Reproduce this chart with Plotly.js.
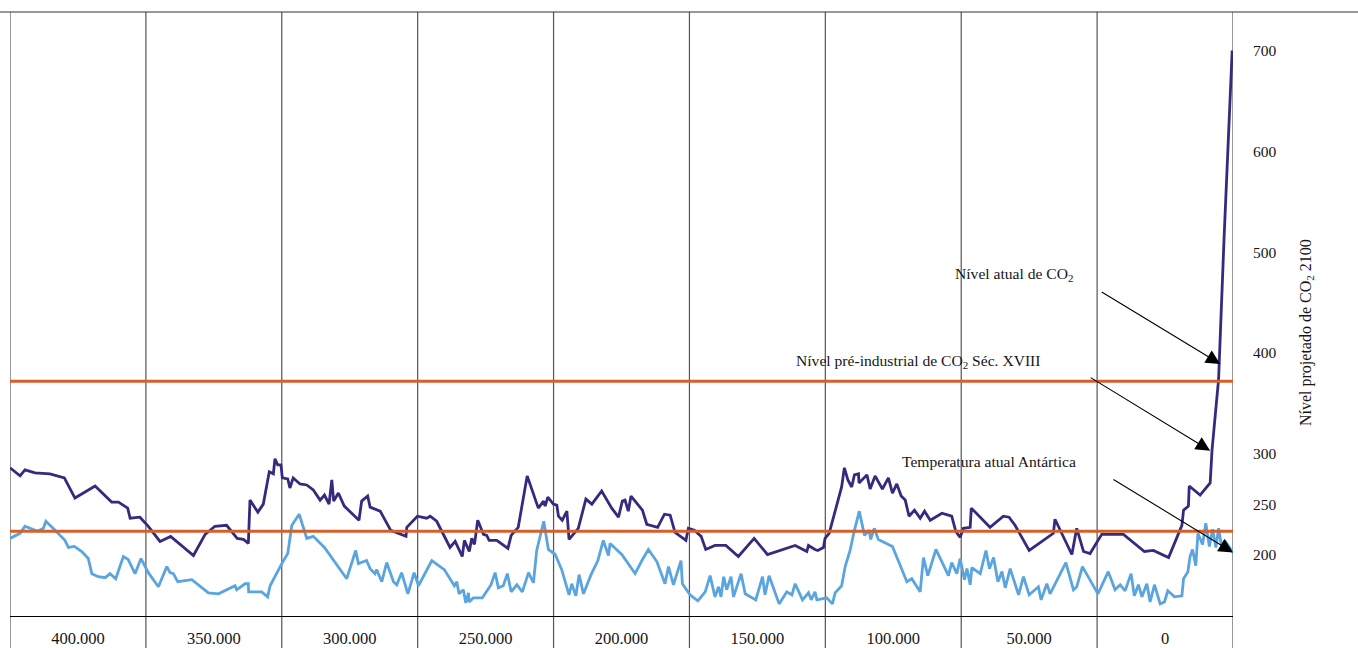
<!DOCTYPE html>
<html lang="pt">
<head>
<meta charset="utf-8">
<script src="https://cdn.plot.ly/plotly-3.0.1.min.js"></script>
<style>
  html, body { margin: 0; padding: 0; background: #fff; }
  #chart { width: 1358px; height: 648px; }
</style>
</head>
<body>
<div id="chart"></div>
<script>
// Axis cells: centre of each cell, in thousands of years before present
const cellCentres = [400, 350, 300, 250, 200, 150, 100, 50, 0];
const cellLabels = ['400.000', '350.000', '300.000', '250.000', '200.000', '150.000', '100.000', '50.000', '0'];

// Right-hand scale
const levelTicks = [200, 250, 300, 400, 500, 600, 700];

// CO2 record (ppm) with projection to 2100 at the far right
const co2Years = [
  425.0, 421.3, 419.5, 415.8, 410.3, 405.0, 401.1, 393.7, 387.6, 385.1,
  381.7, 380.8, 377.2, 374.1, 369.8, 365.9, 357.5, 353.2, 349.6, 345.3,
  341.4, 339.1, 337.3, 336.7, 333.8, 331.8, 329.6, 328.1, 327.5, 326.5,
  325.3, 324.8, 322.8, 322.0, 320.8, 318.3, 315.8, 313.4, 310.9, 309.3,
  307.6, 306.6, 305.9, 304.2, 302.0, 296.6, 295.6, 293.4, 292.5, 288.8,
  284.9, 279.3, 279.0, 275.1, 271.7, 270.4, 268.0, 263.1, 261.2, 258.6,
  257.8, 256.0, 255.1, 254.1, 252.9, 250.8, 249.6, 248.7, 245.9, 241.8,
  240.6, 238.0, 234.7, 230.6, 228.7, 228.1, 227.1, 225.1, 223.8, 223.2,
  221.8, 220.1, 219.3, 215.9, 213.1, 210.9, 207.3, 203.6, 201.1, 199.7,
  198.7, 197.5, 196.5, 192.3, 190.7, 186.7, 184.2, 182.1, 180.3, 176.3,
  175.4, 173.2, 170.7, 169.0, 165.6, 161.6, 157.0, 151.2, 146.3, 136.1,
  131.8, 131.2, 128.8, 127.8, 125.7, 125.1, 123.6, 121.4, 119.0, 118.0,
  116.7, 115.3, 114.3, 112.8, 112.6, 109.7, 108.5, 106.7, 104.0, 101.8,
  100.3, 98.7, 97.1, 95.6, 94.2, 92.2, 90.1, 88.5, 86.4, 82.1,
  78.5, 77.0, 75.4, 74.2, 71.7, 71.3, 64.4, 59.5, 57.4, 55.2,
  50.0, 41.1, 40.5, 34.3, 32.5, 30.0, 27.6, 23.3, 15.3, 7.6,
  4.3, -1.3, -6.2, -6.8, -8.6, -8.9, -12.9, -16.6, -17.3, -19.7,
  -21.7, -24.7
];
const co2Values = [
  286, 278, 284, 281, 280, 276, 256, 268, 252, 252,
  246, 236, 237, 228, 213, 218, 199, 220, 228, 229,
  216, 215, 211, 254, 242, 250, 282, 280, 295, 289,
  289, 276, 275, 266, 276, 270, 269, 264, 254, 259,
  250, 274, 253, 261, 248, 234, 253, 258, 247, 243,
  224, 218, 227, 238, 236, 238, 233, 207, 213, 198,
  214, 203, 216, 210, 234, 220, 219, 214, 214, 206,
  219, 227, 278, 246, 253, 248, 257, 250, 249, 238,
  234, 243, 215, 226, 255, 250, 263, 246, 237, 253,
  254, 243, 258, 244, 230, 227, 240, 239, 222, 214,
  226, 224, 218, 205, 209, 209, 198, 216, 200, 209,
  203, 209, 205, 204, 207, 216, 221, 243, 267, 286,
  274, 267, 279, 280, 271, 279, 265, 278, 265, 276,
  261, 270, 258, 254, 238, 244, 236, 243, 234, 241,
  238, 223, 217, 226, 227, 246, 227, 238, 237, 229,
  204, 221, 235, 200, 226, 203, 201, 220, 220, 203,
  204, 197, 229, 244, 248, 268, 259, 271, 304, 374,
  513, 700
];

// Antarctic temperature record, drawn on the same scale
const tempYears = [
  425.0, 421.3, 419.5, 414.8, 412.7, 411.8, 408.4, 404.8, 403.5, 401.3,
  398.6, 396.2, 394.9, 392.5, 390.0, 388.2, 386.1, 383.3, 381.5, 379.0,
  376.8, 374.1, 370.4, 367.3, 366.1, 364.9, 363.3, 358.1, 352.0, 348.3,
  342.2, 341.6, 338.5, 337.3, 337.2, 332.4, 330.2, 329.3, 325.0, 322.8,
  321.3, 318.6, 315.8, 313.4, 309.3, 301.1, 297.8, 296.8, 293.8, 292.5,
  290.7, 290.1, 288.2, 286.4, 283.9, 282.7, 280.9, 278.6, 276.3, 274.7,
  269.8, 265.2, 261.5, 260.6, 259.8, 258.2, 257.3, 256.3, 256.1, 254.5,
  251.2, 248.0, 246.5, 245.3, 243.5, 242.0, 240.6, 238.5, 236.5, 234.2,
  232.4, 231.2, 228.6, 226.9, 224.4, 222.0, 219.3, 218.3, 216.8, 215.6,
  214.0, 211.2, 208.7, 206.7, 204.8, 204.2, 199.9, 195.0, 192.3, 190.1,
  187.0, 184.0, 182.7, 180.9, 178.1, 177.6, 174.8, 171.9, 169.2, 167.4,
  165.6, 164.3, 163.4, 162.4, 161.3, 159.7, 158.8, 156.0, 154.5, 150.6,
  148.1, 147.2, 145.7, 142.0, 139.2, 137.3, 136.1, 133.4, 131.2, 130.2,
  128.8, 128.1, 124.5, 122.4, 121.4, 119.0, 117.7, 115.9, 114.3, 112.5,
  110.6, 108.9, 108.3, 107.0, 105.5, 100.3, 95.0, 93.2, 90.1, 88.9,
  87.3, 84.3, 79.7, 78.5, 76.6, 75.4, 73.8, 72.9, 71.7, 71.1,
  68.0, 65.9, 64.6, 63.1, 61.5, 60.0, 58.8, 57.0, 53.9, 52.1,
  50.0, 46.6, 45.6, 43.5, 42.3, 36.5, 33.7, 32.5, 30.4, 24.7,
  20.9, 18.4, 16.5, 14.7, 12.5, 11.3, 9.8, 8.5, 6.7, 5.5,
  3.9, 1.8, 0.2, -1.0, -3.5, -6.2, -6.8, -8.4, -9.2, -10.1,
  -11.3, -12.1, -13.8, -15.0, -16.3, -17.5, -18.7, -19.7, -20.9, -21.9,
  -25.0
];
const tempValues = [
  216, 221, 228, 223, 226, 233, 224, 214, 207, 208,
  203, 196, 181, 178, 177, 181, 176, 198, 195, 181,
  196, 182, 168, 188, 182, 181, 173, 175, 162, 161,
  169, 165, 171, 171, 163, 163, 158, 169, 191, 201,
  229, 240, 216, 218, 207, 176, 204, 191, 194, 186,
  181, 185, 173, 192, 173, 170, 182, 161, 182, 169,
  194, 185, 169, 173, 161, 165, 152, 162, 153, 157,
  157, 170, 182, 167, 169, 181, 163, 170, 163, 182,
  172, 204, 233, 205, 200, 185, 160, 171, 159, 180,
  161, 180, 194, 214, 199, 211, 200, 181, 195, 205,
  193, 171, 188, 170, 194, 171, 160, 154, 163, 179,
  158, 168, 158, 178, 165, 178, 158, 181, 161, 155,
  178, 160, 179, 151, 163, 160, 171, 155, 162, 155,
  163, 155, 157, 151, 162, 169, 188, 204, 224, 243,
  219, 224, 215, 226, 215, 208, 173, 176, 163, 197,
  179, 205, 179, 192, 181, 196, 175, 186, 170, 187,
  181, 204, 186, 197, 173, 183, 167, 186, 160, 178,
  160, 168, 155, 171, 161, 192, 165, 168, 188, 161,
  183, 165, 170, 164, 181, 159, 170, 158, 171, 153,
  170, 151, 153, 164, 158, 159, 176, 183, 198, 205,
  189, 221, 210, 231, 208, 225, 207, 226, 206, 214,
  202
];

// Horizontal reference levels
const referenceLevels = [372, 223];

const SERIF = 'Liberation Serif, DejaVu Serif, serif';
const TEXT = '#161616';

const traces = [
  {
    x: tempYears, y: tempValues, type: 'scatter', mode: 'lines',
    line: { color: '#5aa5df', width: 2.8 }, hoverinfo: 'skip'
  },
  {
    x: co2Years, y: co2Values, type: 'scatter', mode: 'lines',
    line: { color: '#38297f', width: 2.8 }, hoverinfo: 'skip'
  }
];

// Cell boundaries half a cell either side of each centre
const half = (cellCentres[0] - cellCentres[1]) / 2;
const edges = cellCentres.map(c => c + half).concat([cellCentres[cellCentres.length - 1] - half]);

const shapes = [];
edges.forEach(e => {
  shapes.push({
    type: 'line', xref: 'x', yref: 'paper', x0: e, x1: e, y0: -0.06, y1: 1,
    line: { color: '#555555', width: 1.2 }, layer: 'below'
  });
});
// top rule running across the whole width
shapes.push({
  type: 'line', xref: 'paper', yref: 'paper', x0: -0.01, x1: 1.11, y0: 1, y1: 1,
  line: { color: '#333', width: 1 }, layer: 'below'
});
referenceLevels.forEach(v => {
  shapes.push({
    type: 'line', xref: 'paper', yref: 'y', x0: 0, x1: 1, y0: v, y1: v,
    line: { color: '#d4602b', width: 3 }, layer: 'above'
  });
});

const labelFont = { family: SERIF, size: 15.6, color: TEXT };
const arrowStyle = { showarrow: true, arrowhead: 2, arrowsize: 2.6, arrowwidth: 1.1, arrowcolor: '#000', standoff: 0, text: '' };

const annotations = [
  { xref: 'paper', yref: 'paper', x: 0.871, y: 0.566, xanchor: 'right', yanchor: 'middle',
    text: 'Nível atual de CO<sub>2</sub>', showarrow: false, font: labelFont },
  { xref: 'paper', yref: 'paper', x: 0.845, y: 0.422, xanchor: 'right', yanchor: 'middle',
    text: 'Nível pré-industrial de CO<sub>2</sub> Séc. XVIII', showarrow: false, font: labelFont },
  { xref: 'paper', yref: 'paper', x: 0.8735, y: 0.2566, xanchor: 'right', yanchor: 'middle',
    text: 'Temperatura atual Antártica', showarrow: false, font: labelFont },
  // right-hand axis caption, set a little below the middle of the plot
  { xref: 'paper', yref: 'paper', x: 1.0597, y: 0.4685, xanchor: 'center', yanchor: 'middle',
    textangle: -90, text: 'Nível projetado de CO<sub>2</sub> 2100', showarrow: false,
    font: { family: SERIF, size: 16, color: TEXT } },
  Object.assign({ xref: 'x', yref: 'y', x: -20.3, y: 389, ax: -120, ay: -73 }, arrowStyle),
  Object.assign({ xref: 'x', yref: 'y', x: -16.6, y: 303, ax: -121, ay: -74 }, arrowStyle),
  Object.assign({ xref: 'x', yref: 'y', x: -25, y: 202, ax: -121, ay: -74 }, arrowStyle)
];

const layout = {
  width: 1358, height: 648,
  margin: { l: 10, r: 125, t: 12, b: 32, pad: 0 },
  paper_bgcolor: '#ffffff',
  plot_bgcolor: 'rgba(0,0,0,0)',
  showlegend: false,
  font: { family: SERIF, color: TEXT, size: 15 },
  xaxis: {
    range: [425, -25],
    tickvals: cellCentres, ticktext: cellLabels,
    showgrid: false, zeroline: false,
    showline: true, linecolor: '#000', linewidth: 1.2,
    ticks: 'outside', ticklen: 7, tickcolor: 'rgba(0,0,0,0)',
    tickfont: { family: SERIF, size: 16.5, color: TEXT }
  },
  yaxis: {
    side: 'right', range: [139, 738.2],
    tickvals: levelTicks,
    showgrid: false, zeroline: false, showline: false,
    ticks: 'outside', ticklen: 16, tickcolor: 'rgba(0,0,0,0)',
    tickfont: { family: SERIF, size: 15.5, color: TEXT }
  },
  shapes: shapes,
  annotations: annotations
};

Plotly.newPlot('chart', traces, layout, { displayModeBar: false, staticPlot: true });
</script>
</body>
</html>
